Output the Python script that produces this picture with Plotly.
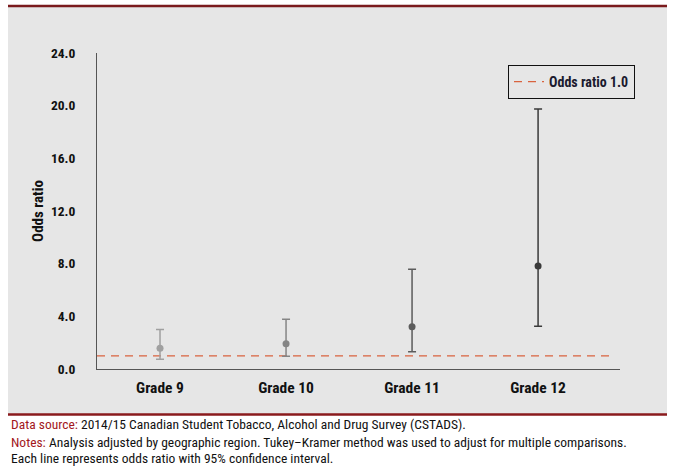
import plotly.graph_objects as go

grades = ["Grade 9", "Grade 10", "Grade 11", "Grade 12"]
odds = [1.57, 1.92, 3.21, 7.82]
lower = [0.74, 0.96, 1.31, 3.24]
upper = [3.00, 3.77, 7.57, 19.74]
ref_value = 1.0
ytick_vals = [0, 4, 8, 12, 16, 20, 24]
colors = ["#a0a0a0", "#858585", "#5c5c5c", "#3a3a3a"]

FONT = "Liberation Sans Narrow, Roboto Condensed, Arial Narrow, sans-serif"

W, H = 674, 474
L, R, T, B = 97, 54, 53, 105
pw, ph = W - L - R, H - T - B

def px(xp):
    return (xp - L) / pw

def py(yp):
    return (H - B - yp) / ph

fig = go.Figure()

# reference line
fig.add_trace(go.Scatter(
    x=[-0.5, 3.61], y=[ref_value, ref_value], mode="lines",
    line=dict(color="#d9633f", width=1.3, dash="8px,6px"),
    name="Odds ratio 1.0", showlegend=True, hoverinfo="skip"))

for i, g in enumerate(grades):
    fig.add_trace(go.Scatter(
        x=[i], y=[odds[i]], mode="markers",
        marker=dict(color=colors[i], size=7),
        error_y=dict(type="data", symmetric=False,
                     array=[upper[i] - odds[i]],
                     arrayminus=[odds[i] - lower[i]],
                     color=colors[i], thickness=1.5, width=4),
        showlegend=False, name=g))

shapes = [
    dict(type="rect", xref="paper", yref="paper",
         x0=px(8), x1=px(667), y0=py(414), y1=py(7),
         fillcolor="#e6e6e6", line=dict(width=0), layer="below"),
    dict(type="line", xref="paper", yref="paper",
         x0=px(8), x1=px(667), y0=py(6), y1=py(6),
         line=dict(color="#7a1a1c", width=2.5)),
    dict(type="line", xref="paper", yref="paper",
         x0=px(8), x1=px(667), y0=py(414.5), y1=py(414.5),
         line=dict(color="#8a1a1c", width=2.5)),
]

red = "#a3171c"
annotations = [
    dict(xref="paper", yref="paper", x=px(9), y=py(424), xanchor="left", yanchor="middle",
         showarrow=False, align="left",
         text=f"<span style='color:{red}'>Data source:</span> 2014/15 Canadian Student Tobacco, Alcohol and Drug Survey (CSTADS).",
         font=dict(family=FONT, size=13.5, color="#111")),
    dict(xref="paper", yref="paper", x=px(9), y=py(442), xanchor="left", yanchor="middle",
         showarrow=False, align="left",
         text=f"<span style='color:{red}'>Notes:</span> Analysis adjusted by geographic region. Tukey–Kramer method was used to adjust for multiple comparisons.",
         font=dict(family=FONT, size=13.5, color="#111")),
    dict(xref="paper", yref="paper", x=px(9), y=py(458), xanchor="left", yanchor="middle",
         showarrow=False, align="left",
         text="Each line represents odds ratio with 95% confidence interval.",
         font=dict(family=FONT, size=13.5, color="#111")),
]

fig.update_layout(
    width=W, height=H,
    margin=dict(l=L, r=R, t=T, b=B),
    paper_bgcolor="white", plot_bgcolor="rgba(0,0,0,0)",
    font=dict(family=FONT, color="#111"),
    shapes=shapes, annotations=annotations,
    legend=dict(x=px(508), y=py(65), xanchor="left", yanchor="top",
                bgcolor="#e6e6e6", bordercolor="#111", borderwidth=1,
                font=dict(family=FONT, size=14, color="#1a1a2e", weight="bold"),
                itemwidth=30, tracegroupgap=0),
    xaxis=dict(range=[-0.5, 3.65], tickvals=[0, 1, 2, 3], ticktext=grades,
               showgrid=False, zeroline=False, showline=True, linecolor="#555",
               linewidth=1, ticks="", ticklabelstandoff=4,
               tickfont=dict(family=FONT, size=15.5, color="#111", weight="bold")),
    yaxis=dict(range=[0, 24], tickvals=ytick_vals, tickformat=".1f",
               showgrid=False, zeroline=False, showline=True, linecolor="#555",
               linewidth=1, ticks="", ticklabelstandoff=18,
               tickfont=dict(family=FONT, size=13.5, color="#111", weight="bold"),
               title=dict(text="Odds ratio", standoff=3,
                          font=dict(family=FONT, size=15, color="#111", weight="bold"))),
)

fig.write_html("out.html", config={"displayModeBar": False},
               post_script="document.body.style.margin='0';document.body.style.padding='0';")
